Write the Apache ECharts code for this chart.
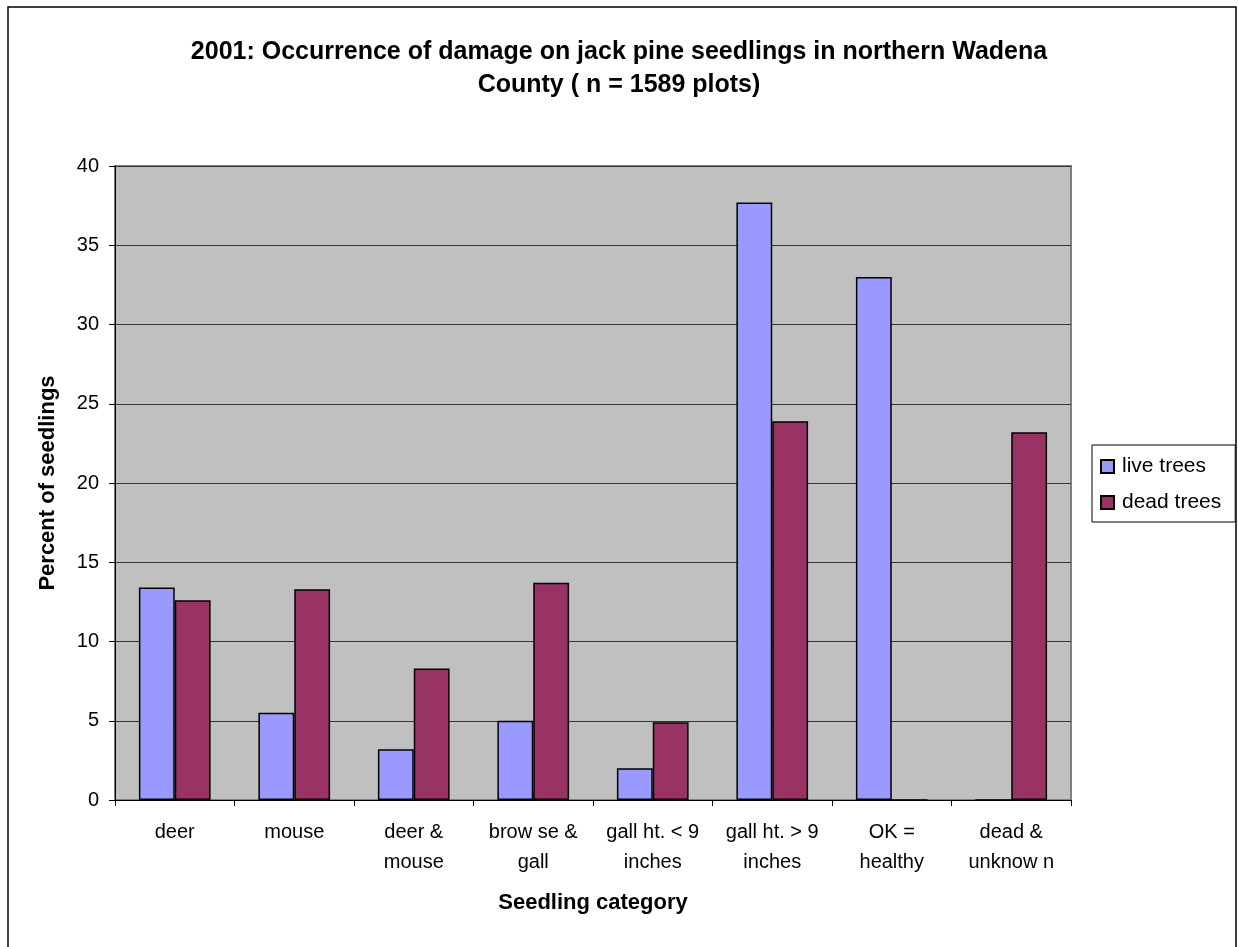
<!DOCTYPE html>
<html>
<head>
<meta charset="utf-8">
<script src="https://cdn.jsdelivr.net/npm/echarts@6/dist/echarts.min.js"></script>
<style>html,body{margin:0;padding:0;background:#fff}#chart{width:1238px;height:947px}</style>
</head>
<body>
<div id="chart"></div>
<script>
var categories = ['deer', 'mouse', 'deer &\nmouse', 'brow se &\ngall', 'gall ht. < 9\ninches', 'gall ht. > 9\ninches', 'OK =\nhealthy', 'dead &\nunknow n'];
var liveTrees = [13.4, 5.5, 3.2, 5.0, 2.0, 37.7, 33.0, 0];
var deadTrees = [12.6, 13.3, 8.3, 13.7, 4.9, 23.9, 0, 23.2];
var yTicks = [0, 5, 10, 15, 20, 25, 30, 35, 40];

var FONT = '"Liberation Sans", Arial, sans-serif';
var chart = echarts.init(document.getElementById('chart'));
chart.setOption({
  animation: false,
  backgroundColor: '#ffffff',
  textStyle: { fontFamily: FONT, color: '#000' },
  title: {
    text: '2001: Occurrence of damage on jack pine seedlings in northern Wadena\nCounty ( n = 1589 plots)',
    left: 614, top: 31, textAlign: 'center',
    textStyle: { fontFamily: FONT, fontSize: 25, fontWeight: 'bold', color: '#000', lineHeight: 33 }
  },
  graphic: [{
    type: 'rect', silent: true,
    shape: { x: 8, y: 7, width: 1228, height: 960 },
    style: { fill: 'none', stroke: '#000', lineWidth: 1.5 }
  }],
  legend: {
    orient: 'vertical', left: 1092, top: 445,
    data: ['live trees', 'dead trees'],
    icon: 'rect', itemWidth: 13, itemHeight: 13, itemGap: 15,
    padding: [11, 14, 9, 8],
    borderColor: '#000', borderWidth: 1, backgroundColor: '#fff',
    textStyle: { fontFamily: FONT, fontSize: 21, color: '#000', padding: [0, 0, 0, 3] }
  },
  grid: {
    left: 115, right: 167, top: 166, bottom: 147,
    show: true, backgroundColor: '#C0C0C0', borderColor: '#808080', borderWidth: 2
  },
  xAxis: {
    type: 'category', data: categories,
    name: 'Seedling category', nameLocation: 'middle', nameGap: 92,
    nameTextStyle: { fontFamily: FONT, fontSize: 22, fontWeight: 'bold', color: '#000' },
    axisLine: { show: true, lineStyle: { color: '#000', width: 1 } },
    axisTick: { show: true, length: 6, lineStyle: { color: '#000' } },
    axisLabel: { interval: 0, margin: 17, fontSize: 20, lineHeight: 30, color: '#000', fontFamily: FONT }
  },
  yAxis: {
    type: 'value', min: 0, max: 40, interval: 5,
    name: 'Percent of seedlings', nameLocation: 'middle', nameGap: 56,
    nameTextStyle: { fontFamily: FONT, fontSize: 22, fontWeight: 'bold', color: '#000' },
    axisLine: { show: true, lineStyle: { color: '#000', width: 1 } },
    axisTick: { show: true, length: 6, lineStyle: { color: '#000' } },
    axisLabel: { margin: 16, fontSize: 20, color: '#000', fontFamily: FONT,
      formatter: function (v) { return yTicks.indexOf(v) >= 0 ? String(v) : ''; } },
    splitLine: { show: true, lineStyle: { color: '#333', width: 1 } }
  },
  series: [{
    name: 'live trees', type: 'bar', data: liveTrees,
    barGap: '0%', barCategoryGap: '40%',
    itemStyle: { color: '#9999FF', borderColor: '#000', borderWidth: 1.5 }
  }, {
    name: 'dead trees', type: 'bar', data: deadTrees,
    barGap: '0%', barCategoryGap: '40%',
    itemStyle: { color: '#993366', borderColor: '#000', borderWidth: 1.5 }
  }]
});
</script>
</body>
</html>
